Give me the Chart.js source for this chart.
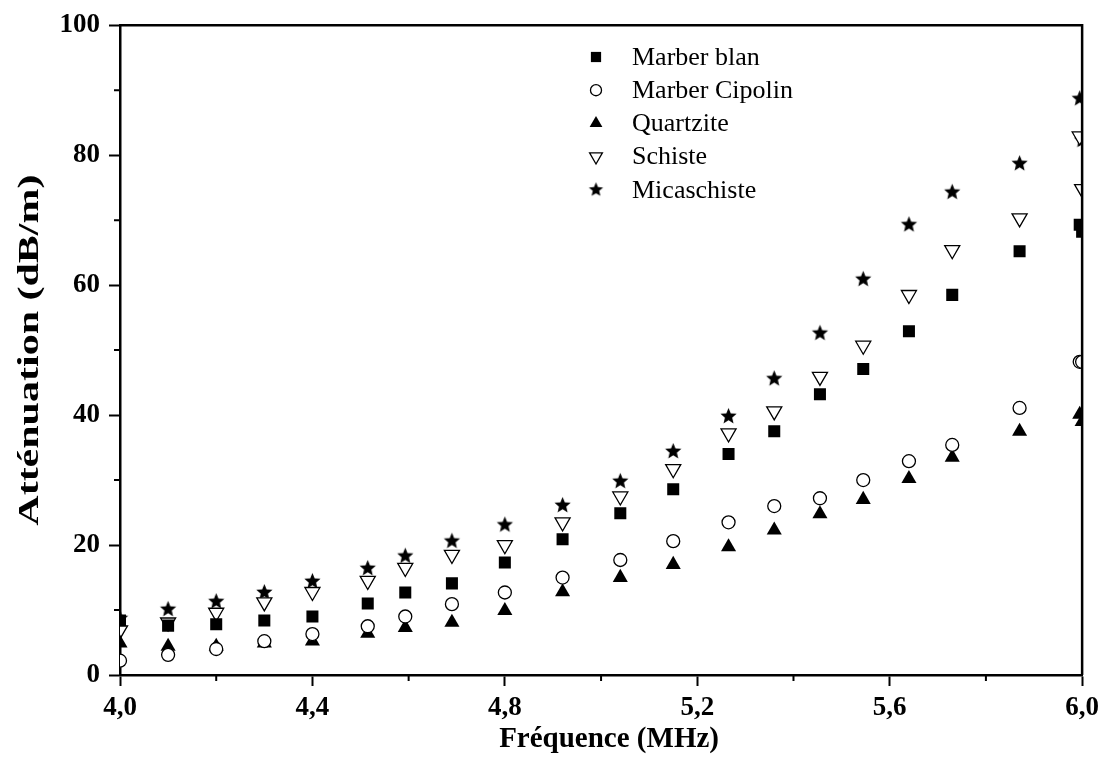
<!DOCTYPE html>
<html>
<head>
<meta charset="utf-8">
<script src="https://cdn.jsdelivr.net/npm/chart.js@4.4.1/dist/chart.umd.min.js"></script>
<style>
  body { margin: 0; background: #fff; }
  #wrap { width: 1105px; height: 776px; }
</style>
</head>
<body>
<div id="wrap"><canvas id="chart" width="1105" height="776"></canvas></div>
<script>
// frequencies (MHz)
const freq = [4.00, 4.10, 4.20, 4.30, 4.40, 4.515, 4.593, 4.69, 4.80, 4.92, 5.04, 5.15, 5.265, 5.36, 5.455, 5.545, 5.64, 5.73, 5.87, 5.995, 6.00];

// attenuation (dB/m) per rock
const marberBlan    = [8.4, 7.6, 7.8, 8.4, 9.0, 11.0, 12.7, 14.1, 17.3, 20.9, 24.9, 28.6, 34.0, 37.5, 43.2, 47.1, 52.9, 58.5, 65.2, 69.3, 68.2];
const marberCipolin = [2.2, 3.1, 4.0, 5.2, 6.3, 7.5, 9.0, 10.9, 12.7, 15.0, 17.7, 20.6, 23.5, 26.0, 27.2, 30.0, 32.9, 35.4, 41.1, 48.2, 48.2];
const quartzite     = [4.9, 4.4, 4.4, 4.9, 5.2, 6.4, 7.3, 8.1, 9.9, 12.8, 15.0, 17.0, 19.7, 22.3, 24.8, 27.0, 30.2, 33.5, 37.5, 40.1, 39.0];
const schiste       = [6.9, 8.1, 9.6, 11.2, 12.8, 14.5, 16.5, 18.5, 20.0, 23.5, 27.5, 31.7, 37.2, 40.6, 45.9, 50.7, 58.5, 65.4, 70.3, 82.9, 74.8];
const micaschiste   = [8.7, 10.1, 11.3, 12.7, 14.4, 16.4, 18.3, 20.6, 23.1, 26.1, 29.8, 34.4, 39.8, 45.6, 52.6, 60.9, 69.3, 74.3, 78.7, 88.7, 82.3];

const seriesNames = ['Marber blan', 'Marber Cipolin', 'Quartzite', 'Schiste', 'Micaschiste'];
const yTicks = [0, 20, 40, 60, 80, 100];
const xTicks = [4.0, 4.4, 4.8, 5.2, 5.6, 6.0];
const yMinor = [10, 30, 50, 70, 90];
const xMinor = [4.2, 4.6, 5.0, 5.4, 5.8];

const xTitle = 'Fréquence (MHz)';
const yTitle = 'Atténuation (dB/m)';

const SERIF = '"Liberation Serif", "Times New Roman", serif';

// filled five point star, Chart.js has only the stroked one
const makeStar = (r) => {
    const c = document.createElement('canvas');
    const s = Math.ceil(r * 2) + 2;
    c.width = c.height = s;
    const g = c.getContext('2d');
    g.beginPath();
    for (let i = 0; i < 10; i++) {
        const rr = i % 2 ? r * 0.45 : r;
        const a = -Math.PI / 2 + i * Math.PI / 5;
        g.lineTo(s / 2 + rr * Math.cos(a), s / 2 + rr * Math.sin(a));
    }
    g.closePath();
    g.fillStyle = '#000';
    g.fill();
    return c;
};
const star = makeStar(8.5);
const smallStar = makeStar(7.5);

const toPoints = (vals) => vals.map((v, i) => ({ x: freq[i], y: v }));

const styles = [
    { pointStyle: 'rect', pointRadius: 8.5, backgroundColor: '#000', borderColor: '#000', borderWidth: 0, rotation: 0 },
    { pointStyle: 'circle', pointRadius: 6.5, backgroundColor: '#fff', borderColor: '#000', borderWidth: 1.3, rotation: 0 },
    { pointStyle: 'triangle', pointRadius: 8.7, backgroundColor: '#000', borderColor: '#000', borderWidth: 0, rotation: 0 },
    { pointStyle: 'triangle', pointRadius: 8.7, backgroundColor: '#fff', borderColor: '#000', borderWidth: 1.3, rotation: 180 },
    { pointStyle: star, pointRadius: 8.5, backgroundColor: '#000', borderColor: '#000', borderWidth: 0, rotation: 0 }
];

const allSeries = [marberBlan, marberCipolin, quartzite, schiste, micaschiste];

const datasets = allSeries.map((vals, i) => ({
    label: seriesNames[i],
    data: toPoints(vals),
    pointStyle: styles[i].pointStyle,
    pointRadius: styles[i].pointRadius,
    pointHoverRadius: styles[i].pointRadius,
    pointRotation: styles[i].rotation,
    backgroundColor: styles[i].backgroundColor,
    borderColor: styles[i].borderColor,
    borderWidth: styles[i].borderWidth,
    showLine: false,
    clip: 0
}));

// frame, minor ticks, legend and axis titles
const decor = {
    id: 'decor',
    afterDraw(chart) {
        const { ctx, chartArea: a, scales } = chart;
        ctx.save();
        ctx.strokeStyle = '#000';
        ctx.lineWidth = 2.5;
        ctx.beginPath();
        ctx.moveTo(a.left, a.top);
        ctx.lineTo(a.right, a.top);
        ctx.lineTo(a.right, a.bottom);
        ctx.stroke();

        ctx.lineWidth = 2;
        ctx.beginPath();
        yMinor.forEach(v => {
            const py = scales.y.getPixelForValue(v);
            ctx.moveTo(a.left - 6, py);
            ctx.lineTo(a.left, py);
        });
        xMinor.forEach(v => {
            const px = scales.x.getPixelForValue(v);
            ctx.moveTo(px, a.bottom);
            ctx.lineTo(px, a.bottom + 6);
        });
        ctx.stroke();

        // legend
        ctx.font = '26px ' + SERIF;
        ctx.textBaseline = 'middle';
        ctx.textAlign = 'left';
        seriesNames.forEach((name, i) => {
            const y = 57 + i * 33.2;
            const st = styles[i];
            ctx.fillStyle = st.backgroundColor;
            ctx.strokeStyle = st.borderColor;
            ctx.lineWidth = st.borderWidth;
            Chart.helpers.drawPoint(ctx, {
                pointStyle: st.pointStyle === star ? smallStar : st.pointStyle,
                radius: st.pointRadius * 0.85,
                rotation: st.rotation,
                borderWidth: st.borderWidth
            }, 596, y);
            ctx.fillStyle = '#000';
            ctx.fillText(name, 632, y + 1);
        });

        // axis titles
        ctx.fillStyle = '#000';
        ctx.textAlign = 'center';
        ctx.textBaseline = 'middle';
        ctx.font = 'bold 29px ' + SERIF;
        ctx.fillText(xTitle, (a.left + a.right) / 2 + 8, 740);

        ctx.translate(30, (a.top + a.bottom) / 2);
        ctx.rotate(-Math.PI / 2);
        ctx.scale(1.4, 1);
        ctx.font = 'bold 30px ' + SERIF;
        ctx.fillText(yTitle, 0, 0);
        ctx.restore();
    }
};

new Chart(document.getElementById('chart'), {
    type: 'scatter',
    data: { datasets },
    options: {
        responsive: false,
        animation: false,
        layout: { padding: { left: 0, top: 22, right: 22, bottom: 0 } },
        plugins: {
            legend: { display: false },
            tooltip: { enabled: false }
        },
        scales: {
            x: {
                type: 'linear',
                min: 4,
                max: 6,
                afterFit: (s) => { s.height = 101; },
                afterBuildTicks: (s) => { s.ticks = xTicks.map(v => ({ value: v })); },
                ticks: {
                    color: '#000',
                    padding: 6,
                    maxRotation: 0,
                    font: { family: SERIF, size: 27, weight: 'bold' },
                    callback: (v) => Number(v).toFixed(1).replace('.', ',')
                },
                grid: { drawOnChartArea: false, drawTicks: true, tickLength: 11, tickWidth: 2, tickColor: '#000' },
                border: { color: '#000', width: 2.5 }
            },
            y: {
                min: 0,
                max: 100,
                afterFit: (s) => { s.width = 120; },
                afterBuildTicks: (s) => { s.ticks = yTicks.map(v => ({ value: v })); },
                ticks: {
                    color: '#000',
                    padding: 9,
                    font: { family: SERIF, size: 27, weight: 'bold' }
                },
                grid: { drawOnChartArea: false, drawTicks: true, tickLength: 11, tickWidth: 2, tickColor: '#000' },
                border: { color: '#000', width: 2.5 }
            }
        }
    },
    plugins: [decor]
});
</script>
</body>
</html>
